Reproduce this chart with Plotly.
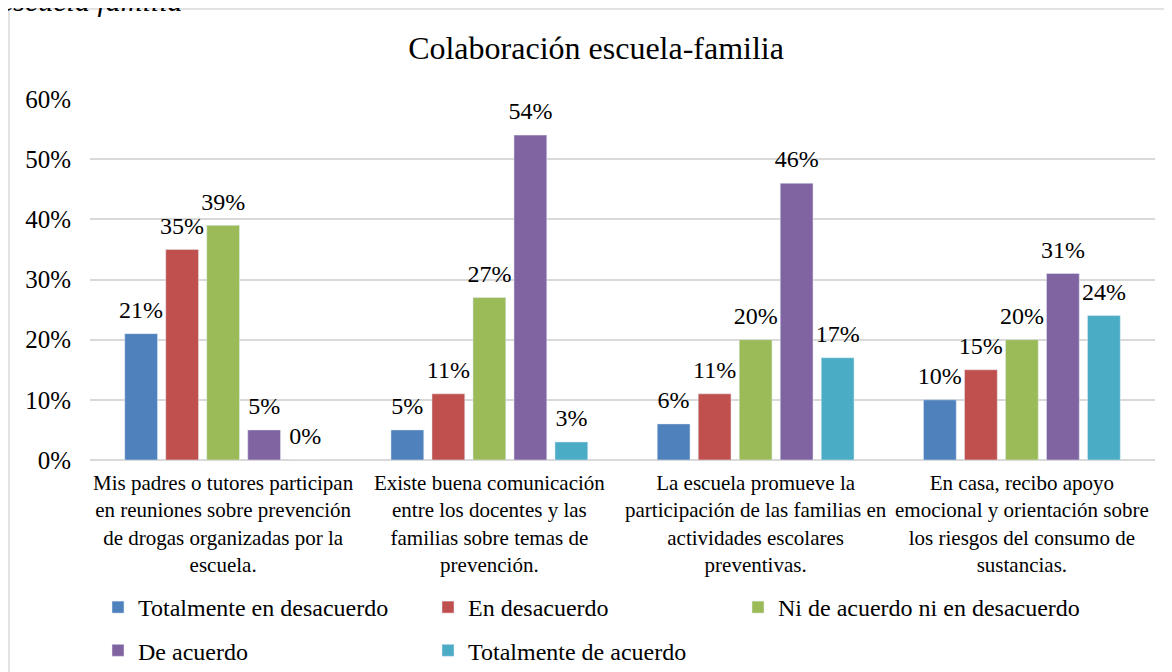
import plotly.graph_objects as go

# Datos
categorias = [
    "Mis padres o tutores participan<br>en reuniones sobre prevención<br>de drogas organizadas por la<br>escuela.",
    "Existe buena comunicación<br>entre los docentes y las<br>familias sobre temas de<br>prevención.",
    "La escuela promueve la<br>participación de las familias en<br>actividades escolares<br>preventivas.",
    "En casa, recibo apoyo<br>emocional y orientación sobre<br>los riesgos del consumo de<br>sustancias.",
]
series = [
    "Totalmente en desacuerdo",
    "En desacuerdo",
    "Ni de acuerdo ni en desacuerdo",
    "De acuerdo",
    "Totalmente de acuerdo",
]
tot_desacuerdo = [21, 5, 6, 10]
en_desacuerdo = [35, 11, 11, 15]
ni_ni = [39, 27, 20, 20]
de_acuerdo = [5, 54, 46, 31]
tot_acuerdo = [0, 3, 17, 24]
valores = [tot_desacuerdo, en_desacuerdo, ni_ni, de_acuerdo, tot_acuerdo]
y_ticks = [0, 10, 20, 30, 40, 50, 60]

COLORES = ["#4F81BD", "#C0504D", "#9BBB59", "#8064A2", "#4BACC6"]
FUENTE = "Liberation Serif"
GRIS = "#d9d9d9"

# La página añade un margen de 8 px: la figura se dibuja en 1164x664
W, H = 1164, 664
ML, MR, MT, MB = 82, 17, 91, 212
PW, PH = W - ML - MR, H - MT - MB


def px_x(x):
    """Pixel horizontal de la figura -> coordenada paper."""
    return (x - ML) / PW


def px_y(y):
    """Pixel vertical de la figura -> coordenada paper."""
    return (H - MB - y) / PH


# Leyenda en 3 columnas (como en Excel): cada columna es una leyenda propia
LEYENDAS = ["legend", "legend2", "legend3"]
COL_X = [90, 420, 730]

fig = go.Figure()
for i, (nombre, vals, color) in enumerate(zip(series, valores, COLORES)):
    fig.add_trace(go.Bar(
        name=nombre,
        x=categorias,
        y=vals,
        marker=dict(color=color),
        legend=LEYENDAS[i % 3],
        legendgroup=f"g{i}",
    ))
# Etiquetas de datos (texto algo separado de la barra)
for i, vals in enumerate(valores):
    fig.add_trace(go.Scatter(
        x=categorias,
        y=vals,
        mode="markers+text",
        text=[f"{v}%" for v in vals],
        textposition="top center",
        textfont=dict(family=FUENTE, size=24, color="#000000"),
        marker=dict(size=14, color="rgba(0,0,0,0)"),
        showlegend=False,
        hoverinfo="skip",
        cliponaxis=False,
    ))

# Marco del gráfico
fig.add_shape(
    type="rect", xref="paper", yref="paper",
    x0=px_x(1), x1=px_x(1175), y0=px_y(700), y1=px_y(1),
    line=dict(color=GRIS, width=1.5), layer="below",
)

# Texto del pie de figura, recortado en el borde superior
fig.add_annotation(
    text="<i>escuela familia</i>", xref="paper", yref="paper",
    x=px_x(-10), y=px_y(11), xanchor="left", yanchor="bottom",
    showarrow=False, font=dict(family=FUENTE, size=30, color="#000000"),
)

leyenda_base = dict(
    orientation="v", xanchor="left", y=px_y(577), yanchor="top",
    font=dict(family=FUENTE, size=24, color="#000000"),
    itemwidth=30, tracegroupgap=9, bgcolor="rgba(0,0,0,0)",
)

fig.update_layout(
    width=W, height=H,
    paper_bgcolor="white", plot_bgcolor="white",
    margin=dict(l=ML, r=MR, t=MT, b=MB, autoexpand=False),
    font=dict(family=FUENTE, color="#000000"),
    title=dict(
        text="Colaboración escuela-familia",
        x=0.5052, xanchor="center", y=1 - 40 / H, yanchor="middle",
        font=dict(family=FUENTE, size=32, color="#000000"),
    ),
    barmode="group", bargap=0.23, bargroupgap=0.2,
    scattermode="group", scattergap=0.23,
    xaxis=dict(
        tickfont=dict(family=FUENTE, size=21, color="#000000"),
        showline=False, ticks="", ticklabelstandoff=8,
    ),
    yaxis=dict(
        range=[0, 60], tickvals=y_ticks, ticktext=[f"{v}%" for v in y_ticks],
        tickfont=dict(family=FUENTE, size=25, color="#000000"),
        showgrid=True, gridcolor=GRIS, gridwidth=1.5,
        zeroline=True, zerolinecolor=GRIS, zerolinewidth=1.5,
        ticks="", ticklen=0, ticklabelstandoff=18,
    ),
    showlegend=True,
    legend=dict(leyenda_base, x=px_x(COL_X[0])),
    legend2=dict(leyenda_base, x=px_x(COL_X[1])),
    legend3=dict(leyenda_base, x=px_x(COL_X[2])),
)

fig.write_html("out.html")
